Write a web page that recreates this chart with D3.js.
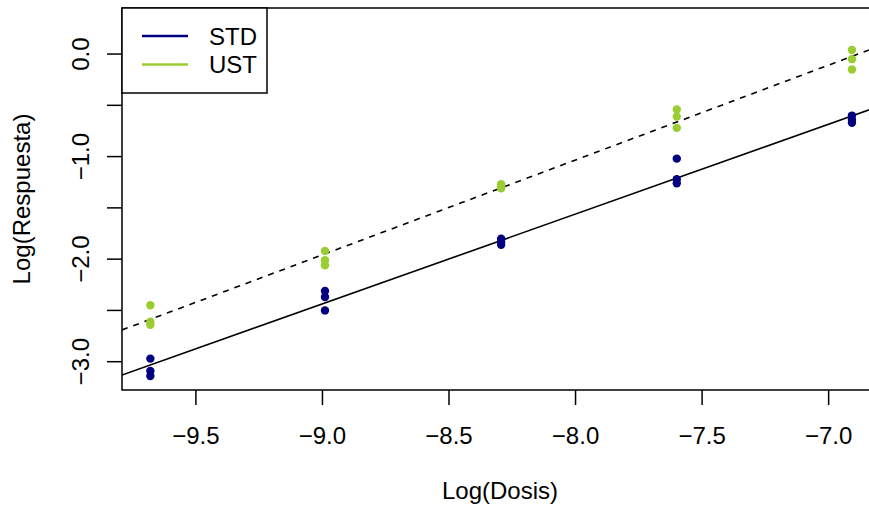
<!DOCTYPE html>
<html lang="es">
<head>
<meta charset="utf-8">
<title>Log(Respuesta) vs Log(Dosis)</title>
<script src="https://d3js.org/d3.v7.min.js"></script>
<style>
  body { margin: 0; background: #fff; }
  text { font-family: "Liberation Sans", Arial, sans-serif; fill: #000; }
</style>
</head>
<body>
<script>
// log dose levels
var dosis = [-9.68, -8.99, -8.294, -7.60, -6.908];
// three replicates per dose
var std = [
  [-2.97, -3.09, -3.14],
  [-2.31, -2.37, -2.50],
  [-1.80, -1.83, -1.86],
  [-1.02, -1.22, -1.26],
  [-0.60, -0.64, -0.67]
];
var ust = [
  [-2.45, -2.61, -2.64],
  [-1.92, -2.01, -2.06],
  [-1.27, -1.29, -1.31],
  [-0.54, -0.61, -0.72],
  [0.04, -0.05, -0.15]
];
// fitted lines: intercept, slope
var fitStd = [5.448, 0.876];
var fitUst = [6.367, 0.925];
var xTicks = [-9.5, -9.0, -8.5, -8.0, -7.5, -7.0];
var yTicks = [-3.0, -2.5, -2.0, -1.5, -1.0, -0.5, 0.0];
var yLabels = [-3.0, -2.0, -1.0, 0.0];
var seriesNames = ["STD", "UST"];
var seriesColors = ["#000080", "#9ACD32"];

var W = 869, H = 510;
var mL = 122, mT = 8, mR = 878, mB = 390;
var fs = 24;

var x = d3.scaleLinear().domain([-9.792, -6.805]).range([mL, mR]);
var y = d3.scaleLinear().domain([-3.276, 0.449]).range([mB, mT]);

var svg = d3.select("body").append("svg")
    .attr("width", W).attr("height", H);

svg.append("defs").append("clipPath").attr("id", "plotclip")
  .append("rect").attr("x", mL).attr("y", mT)
  .attr("width", mR - mL).attr("height", mB - mT);

// fitted lines
var plot = svg.append("g").attr("clip-path", "url(#plotclip)");
[[fitStd, null], [fitUst, "6,6"]].forEach(function(f) {
  var xd = x.domain();
  plot.append("line")
    .attr("x1", x(xd[0])).attr("y1", y(f[0][0] + f[0][1] * xd[0]))
    .attr("x2", x(xd[1])).attr("y2", y(f[0][0] + f[0][1] * xd[1]))
    .attr("stroke", "#000").attr("stroke-width", 1.6)
    .attr("stroke-dasharray", f[1]);
});

// points
[std, ust].forEach(function(s, i) {
  var pts = [];
  s.forEach(function(reps, j) { reps.forEach(function(v) { pts.push([dosis[j], v]); }); });
  plot.selectAll(null).data(pts).join("circle")
    .attr("cx", d => x(d[0])).attr("cy", d => y(d[1]))
    .attr("r", 4.2).attr("fill", seriesColors[i]);
});

// box
svg.append("rect")
  .attr("x", mL).attr("y", mT)
  .attr("width", mR - mL).attr("height", mB - mT)
  .attr("fill", "none").attr("stroke", "#000").attr("stroke-width", 1.5);

// x axis
var gx = svg.append("g");
gx.selectAll("line").data(xTicks).join("line")
  .attr("x1", d => x(d)).attr("x2", d => x(d))
  .attr("y1", mB).attr("y2", mB + 15)
  .attr("stroke", "#000").attr("stroke-width", 1.5);
gx.selectAll("text").data(xTicks).join("text")
  .attr("x", d => x(d)).attr("y", 444)
  .attr("text-anchor", "middle").attr("font-size", fs)
  .text(d3.format(".1f"));

// y axis
var gy = svg.append("g");
gy.selectAll("line").data(yTicks).join("line")
  .attr("x1", mL - 15).attr("x2", mL)
  .attr("y1", d => y(d)).attr("y2", d => y(d))
  .attr("stroke", "#000").attr("stroke-width", 1.5);
gy.selectAll("text").data(yLabels).join("text")
  .attr("transform", d => "translate(89," + y(d) + ") rotate(-90)")
  .attr("text-anchor", "middle").attr("font-size", fs)
  .text(d3.format(".1f"));

// axis titles
svg.append("text").attr("x", (mL + mR) / 2).attr("y", 499)
  .attr("text-anchor", "middle").attr("font-size", fs).text("Log(Dosis)");
svg.append("text")
  .attr("transform", "translate(30," + (mT + mB) / 2 + ") rotate(-90)")
  .attr("text-anchor", "middle").attr("font-size", fs).text("Log(Respuesta)");

// legend
var lg = svg.append("g");
lg.append("rect").attr("x", mL).attr("y", mT)
  .attr("width", 145).attr("height", 85)
  .attr("fill", "#fff").attr("stroke", "#000").attr("stroke-width", 1.5);
seriesNames.forEach(function(n, i) {
  var ly = 36 + i * 28.5;
  lg.append("line").attr("x1", 142).attr("x2", 188)
    .attr("y1", ly).attr("y2", ly)
    .attr("stroke", seriesColors[i]).attr("stroke-width", 2.6);
  lg.append("text").attr("x", 209).attr("y", ly + 8.5)
    .attr("font-size", fs).text(n);
});
</script>
</body>
</html>
